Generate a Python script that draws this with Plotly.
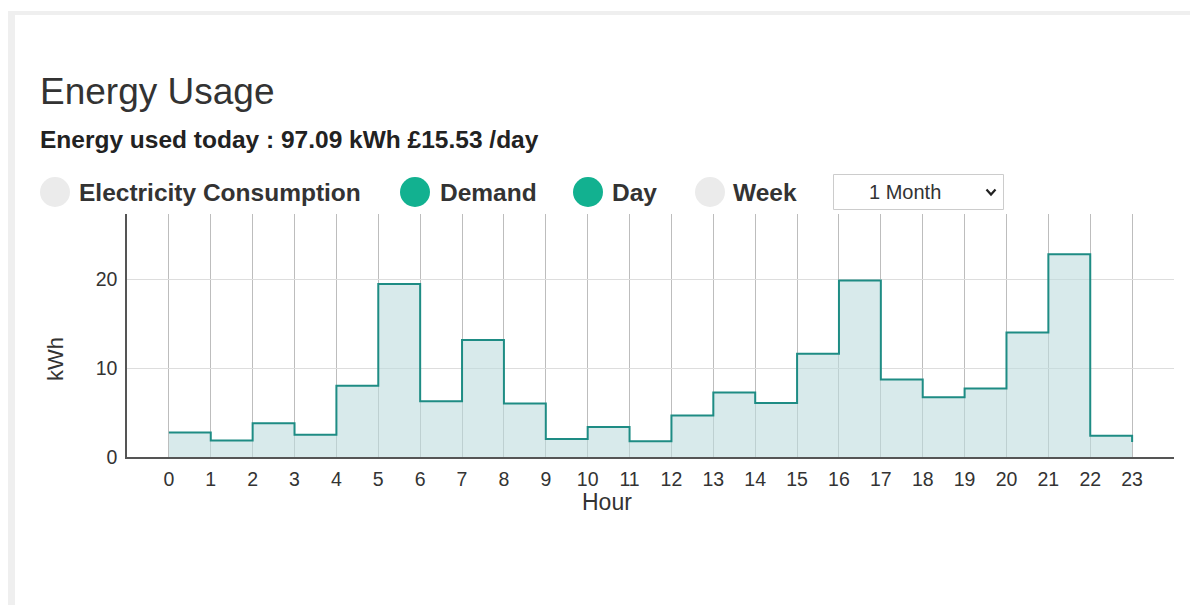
import plotly.graph_objects as go

# hourly usage
hours = list(range(24))
usage_kwh = [2.75, 1.85, 3.80, 2.52, 8.02, 19.50, 6.29, 13.20, 6.03, 2.03, 3.39, 1.77,
             4.67, 7.27, 6.10, 11.64, 19.90, 8.74, 6.74, 7.72, 14.05, 22.86, 2.41, 1.70]
y_ticks = [0, 10, 20]

title_text = 'Energy Usage'
summary_text = 'Energy used today : 97.09 kWh £15.53 /day'
toggle_labels = ['Electricity Consumption', 'Demand', 'Day', 'Week']
toggle_on = [False, True, True, False]
period_label = '1 Month'

FONT = 'Liberation Sans, Arial, sans-serif'
TEXT = '#333333'
GREEN = '#12b190'
OFF_GREY = '#ebebeb'

# page is offset by the 8px body margin
W, H = 1182, 597
OFF = 8
ML, MR, MT, MB = 119, 16, 206, 148
PW = W - ML - MR
PH = H - MT - MB


def px(x_page):
    return (x_page - OFF - ML) / PW


def py(y_page):
    return 1 - (y_page - OFF - MT) / PH


fig = go.Figure()

fig.add_trace(
    go.Scatter(
        x=hours,
        y=usage_kwh,
        mode='lines',
        line=dict(color='#1e8c84', width=2, shape='hv'),
        fill='tozeroy',
        fillcolor='rgba(190, 220, 222, 0.6)',
        showlegend=False,
        hovertemplate='Hour %{x}<br>%{y:.2f} kWh<extra></extra>'
    )
)

shapes = []

# card shadow strips
shapes.append(dict(type='rect', xref='paper', yref='paper', layer='below',
                   x0=px(7), x1=px(1200), y0=py(11), y1=py(15),
                   fillcolor='#efefef', line=dict(width=0)))
shapes.append(dict(type='rect', xref='paper', yref='paper', layer='below',
                   x0=px(7), x1=px(15), y0=py(11), y1=py(620),
                   fillcolor='#efefef', line=dict(width=0)))

annotations = [
    dict(text=title_text, x=px(38), y=py(91), xref='paper', yref='paper',
         xanchor='left', yanchor='middle', showarrow=False,
         font=dict(family=FONT, size=37, color=TEXT)),
    dict(text='<b>' + summary_text + '</b>', x=px(38), y=py(139), xref='paper', yref='paper',
         xanchor='left', yanchor='middle', showarrow=False,
         font=dict(family=FONT, size=24.5, color='#222222')),
]

# toggle circles and labels
circle_cx = [55, 415, 588, 710]
label_x = [77, 438, 610, 731]
for cx, lx, label, on in zip(circle_cx, label_x, toggle_labels, toggle_on):
    shapes.append(dict(type='circle', xref='paper', yref='paper',
                       x0=px(cx - 15), x1=px(cx + 15), y0=py(177), y1=py(207),
                       fillcolor=GREEN if on else OFF_GREY, line=dict(width=0)))
    annotations.append(dict(text='<b>' + label + '</b>', x=px(lx), y=py(192),
                            xref='paper', yref='paper', xanchor='left', yanchor='middle',
                            showarrow=False, font=dict(family=FONT, size=24.5, color=TEXT)))

# period dropdown
shapes.append(dict(type='rect', xref='paper', yref='paper',
                   x0=px(833.5), x1=px(1003.5), y0=py(174.5), y1=py(209.5),
                   fillcolor='white', line=dict(color='#cccccc', width=1)))
shapes.append(dict(type='path', xref='paper', yref='paper',
                   path=f'M {px(986.5)} {py(189.5)} L {px(991)} {py(194.5)} L {px(995.5)} {py(189.5)}',
                   line=dict(color='#222222', width=2.2)))
annotations.append(dict(text=period_label, x=px(867), y=py(192), xref='paper', yref='paper',
                        xanchor='left', yanchor='middle', showarrow=False,
                        font=dict(family=FONT, size=20, color=TEXT)))

# axis titles
annotations.append(dict(text='kWh', x=px(55), y=py(359), xref='paper', yref='paper',
                        xanchor='center', yanchor='middle', textangle=-90, showarrow=False,
                        font=dict(family=FONT, size=22, color=TEXT)))
annotations.append(dict(text='Hour', x=px(607), y=py(502), xref='paper', yref='paper',
                        xanchor='center', yanchor='middle', showarrow=False,
                        font=dict(family=FONT, size=23, color=TEXT)))

fig.update_layout(
    width=W,
    height=H,
    margin=dict(l=ML, r=MR, t=MT, b=MB, pad=0),
    paper_bgcolor='white',
    plot_bgcolor='white',
    font=dict(family=FONT, size=19, color=TEXT),
    shapes=shapes,
    annotations=annotations,
    xaxis=dict(
        range=[-1, 24],
        tickvals=hours,
        ticktext=[str(h) for h in hours],
        showgrid=True,
        gridcolor='#bdbdbd',
        gridwidth=1,
        zeroline=False,
        showline=True,
        linecolor='#555555',
        linewidth=1.5,
        ticks='outside',
        ticklen=4,
        tickcolor='rgba(0,0,0,0)',
        tickfont=dict(size=19.5, color=TEXT),
        fixedrange=True
    ),
    yaxis=dict(
        range=[0, 27.4],
        tickvals=y_ticks,
        showgrid=True,
        gridcolor='#dddddd',
        gridwidth=1,
        zeroline=False,
        showline=True,
        linecolor='#555555',
        linewidth=1.5,
        ticks='outside',
        ticklen=4,
        tickcolor='rgba(0,0,0,0)',
        tickfont=dict(size=19.5, color=TEXT),
        fixedrange=True
    ),
)

fig.write_html('out.html', config={'displayModeBar': False})
